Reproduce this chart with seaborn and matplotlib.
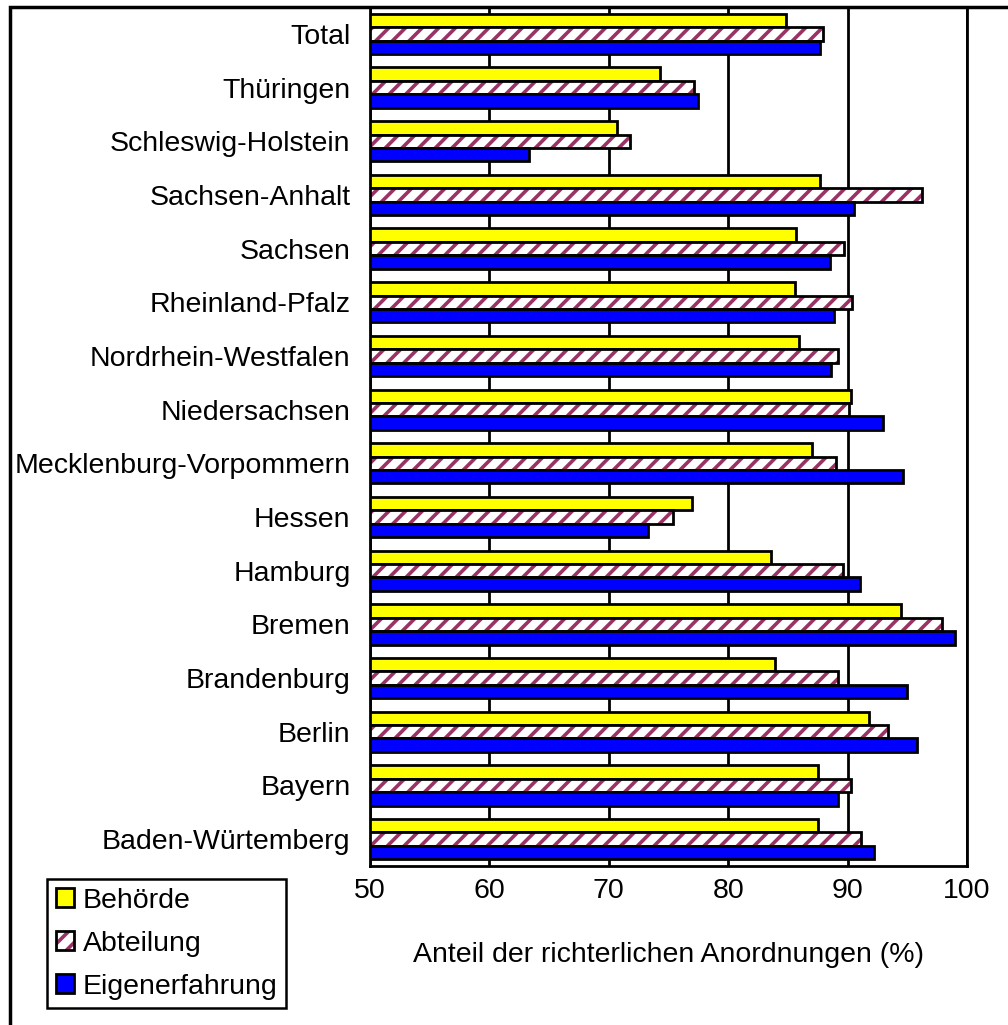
"""Horizontal grouped bars: share of judicial orders per Bundesland."""

import matplotlib

matplotlib.use("Agg")
import matplotlib.pyplot as plt
import numpy as np
import pandas as pd
import seaborn as sns
from matplotlib.patches import Patch, Rectangle

states = [
    "Total",
    "Thüringen",
    "Schleswig-Holstein",
    "Sachsen-Anhalt",
    "Sachsen",
    "Rheinland-Pfalz",
    "Nordrhein-Westfalen",
    "Niedersachsen",
    "Mecklenburg-Vorpommern",
    "Hessen",
    "Hamburg",
    "Bremen",
    "Brandenburg",
    "Berlin",
    "Bayern",
    "Baden-Würtemberg",
]
behoerde = [84.8, 74.3, 70.7, 87.7, 85.7, 85.6, 85.9, 90.3, 87.0, 77.0,
            83.6, 94.5, 83.9, 91.8, 87.5, 87.5]
abteilung = [87.9, 77.1, 71.8, 96.2, 89.7, 90.4, 89.2, 90.1, 89.0, 75.4,
             89.6, 97.9, 89.2, 93.4, 90.3, 91.1]
eigenerfahrung = [87.7, 77.5, 63.3, 90.5, 88.5, 88.9, 88.6, 93.0, 94.6, 73.3,
                  91.0, 99.0, 95.0, 95.8, 89.2, 92.2]
series = ["Behörde", "Abteilung", "Eigenerfahrung"]
x_ticks = [50, 60, 70, 80, 90, 100]

YELLOW = "#FFFF00"
BLUE = "#0000FF"
MAROON = "#993366"
EDGE_LW = 2.0

df = pd.DataFrame({
    "state": states * 3,
    "value": behoerde + abteilung + eigenerfahrung,
    "series": np.repeat(series, len(states)),
})

sns.set_style("white")
plt.rcParams["font.family"] = ["Liberation Sans", "DejaVu Sans"]
plt.rcParams["hatch.linewidth"] = 2.6
for key in ["text.color", "axes.labelcolor", "xtick.color", "ytick.color"]:
    plt.rcParams[key] = "black"

fig = plt.figure(figsize=(10.08, 10.25), dpi=100)
ax = fig.add_axes([370 / 1008, 1 - 866 / 1025, 597 / 1008, 859 / 1025])

sns.barplot(
    data=df, y="state", x="value", hue="series", hue_order=series,
    palette=[YELLOW, "white", BLUE], orient="h", width=0.75,
    edgecolor="black", linewidth=EDGE_LW, saturation=1, legend=False, ax=ax,
)

# hatched middle bars: hatch colour follows edgecolor, so outline separately
for bar in ax.containers[1]:
    bar.set_hatch("//")
    bar.set_edgecolor(MAROON)
    bar.set_linewidth(0)
    ax.add_patch(Rectangle(bar.get_xy(), bar.get_width(), bar.get_height(),
                           fill=False, edgecolor="black", linewidth=EDGE_LW,
                           zorder=bar.get_zorder() + 0.1))

ax.set_xlim(50, 100)
ax.set_xticks(x_ticks)
ax.set_ylim(len(states) - 0.5, -0.5)
ax.set_yticks(np.arange(-0.5, len(states), 1), minor=True)
ax.tick_params(axis="y", which="major", length=0, pad=14, labelsize=20.5)
ax.tick_params(axis="y", which="minor", length=6, width=1.2, color="#555555")
ax.tick_params(axis="x", which="major", length=6, width=1.5, pad=3,
               labelsize=20.5, direction="out", color="black")
ax.set_ylabel("")
ax.set_xlabel("Anteil der richterlichen Anordnungen (%)", fontsize=20.5,
              labelpad=27)
ax.grid(axis="x", color="black", linewidth=2)
ax.set_axisbelow(True)
for side in ["left", "bottom", "top", "right"]:
    ax.spines[side].set_visible(True)
    ax.spines[side].set_color("black")
    ax.spines[side].set_linewidth(2)

# chart area border (extends past right/bottom edges like the original)
fig.patches.append(Rectangle((10 / 1008, -0.1), 1.2, 1.1 - 7 / 1025,
                             transform=fig.transFigure, fill=False,
                             edgecolor="black", linewidth=2.5))

handles = [
    Patch(facecolor=YELLOW, edgecolor="black", linewidth=EDGE_LW),
    (Patch(facecolor="white", edgecolor=MAROON, hatch="//", linewidth=0),
     Patch(fill=False, edgecolor="black", linewidth=EDGE_LW)),
    Patch(facecolor=BLUE, edgecolor="black", linewidth=EDGE_LW),
]
leg = fig.legend(
    handles, series, loc="upper left",
    bbox_to_anchor=(47 / 1008, 1 - 879 / 1025), fontsize=20.5,
    frameon=True, fancybox=False, framealpha=1, edgecolor="black",
    handlelength=0.65, handleheight=0.65, handletextpad=0.3,
    labelspacing=0.6, borderpad=0.3, borderaxespad=0,
)
leg.get_frame().set_linewidth(1.8)

fig.savefig("out.png", dpi=100)
